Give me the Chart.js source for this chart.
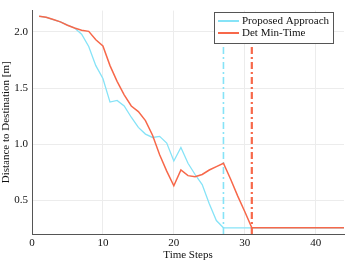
<!DOCTYPE html>
<html>
<head>
<meta charset="utf-8">
<script src="https://cdn.jsdelivr.net/npm/chart.js@4"></script>
<style>
  html, body { margin: 0; padding: 0; background: #fff; }
  #wrap { width: 349px; height: 262px; }
</style>
</head>
<body>
<div id="wrap"><canvas id="chart" width="349" height="262"></canvas></div>
<script>
const steps = [1,2,3,4,5,6,7,8,9,10,11,12,13,14,15,16,17,18,19,20,21,22,23,24,25,26,27,28,29,30,31,32,33,34,35,36,37,38,39,40,41,42,43,44];
const proposed = [2.14,2.13,2.11,2.09,2.06,2.035,1.98,1.87,1.70,1.585,1.375,1.39,1.34,1.24,1.15,1.09,1.06,1.07,1.01,0.85,0.97,0.83,0.73,0.64,0.47,0.32,0.255,0.255,0.255,0.255,0.255,0.255,0.255,0.255,0.255,0.255,0.255,0.255,0.255,0.255,0.255,0.255,0.255,0.255];
const detMinTime = [2.14,2.13,2.11,2.09,2.06,2.035,2.015,2.005,1.93,1.875,1.70,1.56,1.44,1.34,1.29,1.21,1.08,0.906,0.76,0.63,0.77,0.72,0.71,0.73,0.77,0.80,0.83,0.69,0.54,0.40,0.255,0.255,0.255,0.255,0.255,0.255,0.255,0.255,0.255,0.255,0.255,0.255,0.255,0.255];
const proposedDone = 27;
const detDone = 31;
const xTicks = [0, 10, 20, 30, 40];
const yTicks = [0.5, 1.0, 1.5, 2.0];

const blue = '#86e3f7';
const red = '#f7684a';
const serif = "'Liberation Serif', 'DejaVu Serif', serif";

const toXY = (xs, ys) => xs.map((x, i) => ({ x: x, y: ys[i] }));

// legend drawn inside the plot, top right
const boxLegend = {
    id: 'boxLegend',
    afterDraw(chart) {
        const ctx = chart.ctx;
        const items = chart.data.datasets.filter(d => !d.isMarker);
        const x0 = 214, y0 = 12, w = 119, h = 31;
        ctx.save();
        ctx.fillStyle = '#fff';
        ctx.fillRect(x0, y0, w, h);
        ctx.strokeStyle = '#555';
        ctx.lineWidth = 1;
        ctx.strokeRect(x0 + 0.5, y0 + 0.5, w, h);
        ctx.font = '11px ' + serif;
        ctx.textBaseline = 'middle';
        items.forEach((d, i) => {
            const cy = y0 + 9 + i * 12;
            ctx.strokeStyle = d.borderColor;
            ctx.lineWidth = 2;
            ctx.beginPath();
            ctx.moveTo(x0 + 4, cy);
            ctx.lineTo(x0 + 25, cy);
            ctx.stroke();
            ctx.fillStyle = '#111';
            ctx.fillText(d.label, x0 + 28, cy);
        });
        ctx.restore();
    }
};

new Chart(document.getElementById('chart'), {
    type: 'line',
    data: {
        datasets: [
            {
                label: 'Proposed Approach',
                data: toXY(steps, proposed),
                borderColor: blue,
                borderWidth: 1.3,
                pointRadius: 0,
                tension: 0,
                order: 3
            },
            {
                label: 'Det Min-Time',
                data: toXY(steps, detMinTime),
                borderColor: red,
                borderWidth: 1.5,
                pointRadius: 0,
                tension: 0,
                order: 1
            },
            {
                label: 'proposed end',
                isMarker: true,
                data: [{ x: proposedDone, y: 0.2 }, { x: proposedDone, y: 2.2 }],
                borderColor: blue,
                borderWidth: 1.6,
                borderDash: [7, 3, 2, 3],
                pointRadius: 0,
                order: 4
            },
            {
                label: 'det end',
                isMarker: true,
                data: [{ x: detDone, y: 0.2 }, { x: detDone, y: 2.2 }],
                borderColor: red,
                borderWidth: 2.2,
                borderDash: [7, 3, 2, 3],
                pointRadius: 0,
                order: 2
            }
        ]
    },
    options: {
        responsive: false,
        animation: false,
        layout: { padding: { top: 5, right: 5, left: 0, bottom: 0 } },
        plugins: {
            legend: { display: false },
            tooltip: { enabled: false }
        },
        scales: {
            x: {
                type: 'linear',
                min: 0,
                max: 44,
                afterBuildTicks: axis => { axis.ticks = xTicks.map(v => ({ value: v })); },
                afterFit: axis => { axis.height = 28; },
                grid: { color: '#ececec', drawTicks: false },
                border: { color: '#555', width: 1 },
                ticks: { color: '#111', font: { family: serif, size: 11 }, padding: 3, maxRotation: 0 },
                title: { display: true, text: 'Time Steps', color: '#111', font: { family: serif, size: 11 }, padding: 0 }
            },
            y: {
                min: 0.2,
                max: 2.19,
                afterBuildTicks: axis => { axis.ticks = yTicks.map(v => ({ value: v })); },
                afterFit: axis => { axis.width = 32; },
                grid: { color: '#ececec', drawTicks: false },
                border: { color: '#555', width: 1 },
                ticks: { color: '#111', font: { family: serif, size: 11 }, padding: 4, callback: v => v.toFixed(1) },
                title: { display: true, text: 'Distance to Destination [m]', color: '#111', font: { family: serif, size: 11 }, padding: 0 }
            }
        }
    },
    plugins: [boxLegend]
});
</script>
</body>
</html>
